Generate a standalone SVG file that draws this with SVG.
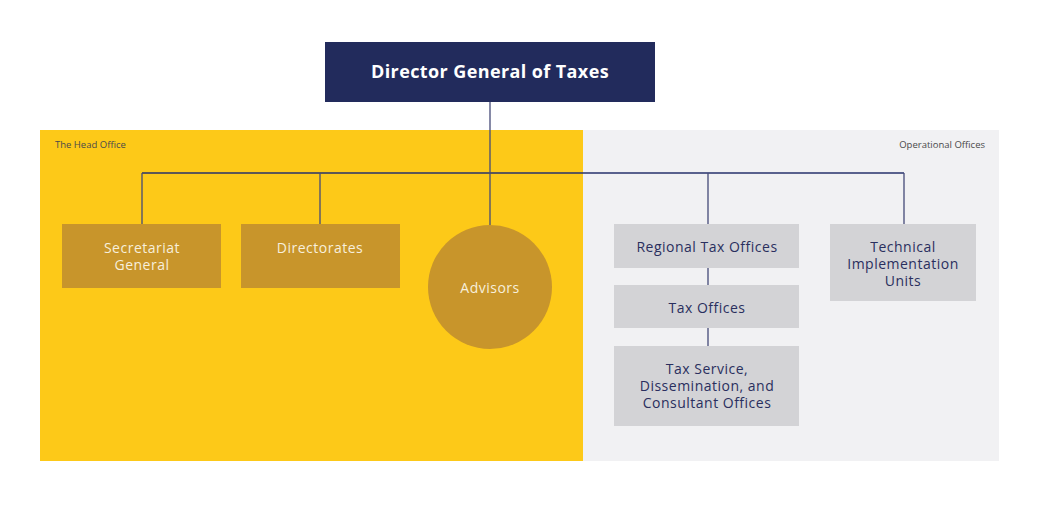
<svg xmlns="http://www.w3.org/2000/svg" width="1038" height="515" viewBox="0 0 1038 515">
<style>
text{font-family:"Open Sans","Liberation Sans",sans-serif;text-anchor:middle}
.gold{fill:#C8952B}
.grey{fill:#D3D3D6}
.lw{fill:#F7EFDC;font-size:14px;letter-spacing:0.5px}
.ln{fill:#2A2F5E;font-size:14px;letter-spacing:0.5px}
.lbl{fill:#4A4A4A;font-size:9.5px}
.h{stroke:#26306B;stroke-width:1.5;fill:none}
.v{stroke:#454B78;stroke-width:1.3;fill:none}
</style>
<rect width="1038" height="515" fill="#FFFFFF"/>
<g id="panels">
<rect x="40" y="130" width="543" height="331" fill="#FDC918"/>
<rect x="583" y="130" width="416" height="331" fill="#F1F1F3"/>
<text x="55" y="148" class="lbl" style="text-anchor:start">The Head Office</text>
<text x="985" y="148" class="lbl" style="text-anchor:end">Operational Offices</text>
</g>
<g id="connectors">
<path class="h" d="M142 173H904"/>
<path class="v" d="M490 102V225"/>
<path class="v" d="M142 173V224M320 173V224M708 173V224M904 173V224"/>
<path class="v" d="M708 268V285M708 328V346"/>
</g>
<g id="director">
<rect x="325" y="42" width="330" height="60" fill="#222B5C"/>
<text x="490" y="78" style="fill:#FFFFFF;font-size:18px;font-weight:700;letter-spacing:0.4px">Director General of Taxes</text>
</g>
<g id="secretariat">
<rect class="gold" x="62" y="224" width="159" height="64"/>
<text class="lw" x="142" y="253">Secretariat</text>
<text class="lw" x="142" y="270">General</text>
</g>
<g id="directorates">
<rect class="gold" x="241" y="224" width="159" height="64"/>
<text class="lw" x="320" y="253">Directorates</text>
</g>
<g id="advisors">
<circle class="gold" cx="490" cy="287" r="62"/>
<text class="lw" x="490" y="293">Advisors</text>
</g>
<g id="regional">
<rect class="grey" x="614" y="224" width="185" height="44"/>
<text class="ln" x="707" y="252">Regional Tax Offices</text>
</g>
<g id="taxoffices">
<rect class="grey" x="614" y="285" width="185" height="43"/>
<text class="ln" x="707" y="313">Tax Offices</text>
</g>
<g id="taxservice">
<rect class="grey" x="614" y="346" width="185" height="80"/>
<text class="ln" x="707" y="374">Tax Service,</text>
<text class="ln" x="707" y="391">Dissemination, and</text>
<text class="ln" x="707" y="408">Consultant Offices</text>
</g>
<g id="technical">
<rect class="grey" x="830" y="224" width="146" height="77"/>
<text class="ln" x="903" y="252">Technical</text>
<text class="ln" x="903" y="269">Implementation</text>
<text class="ln" x="903" y="286">Units</text>
</g>
</svg>
